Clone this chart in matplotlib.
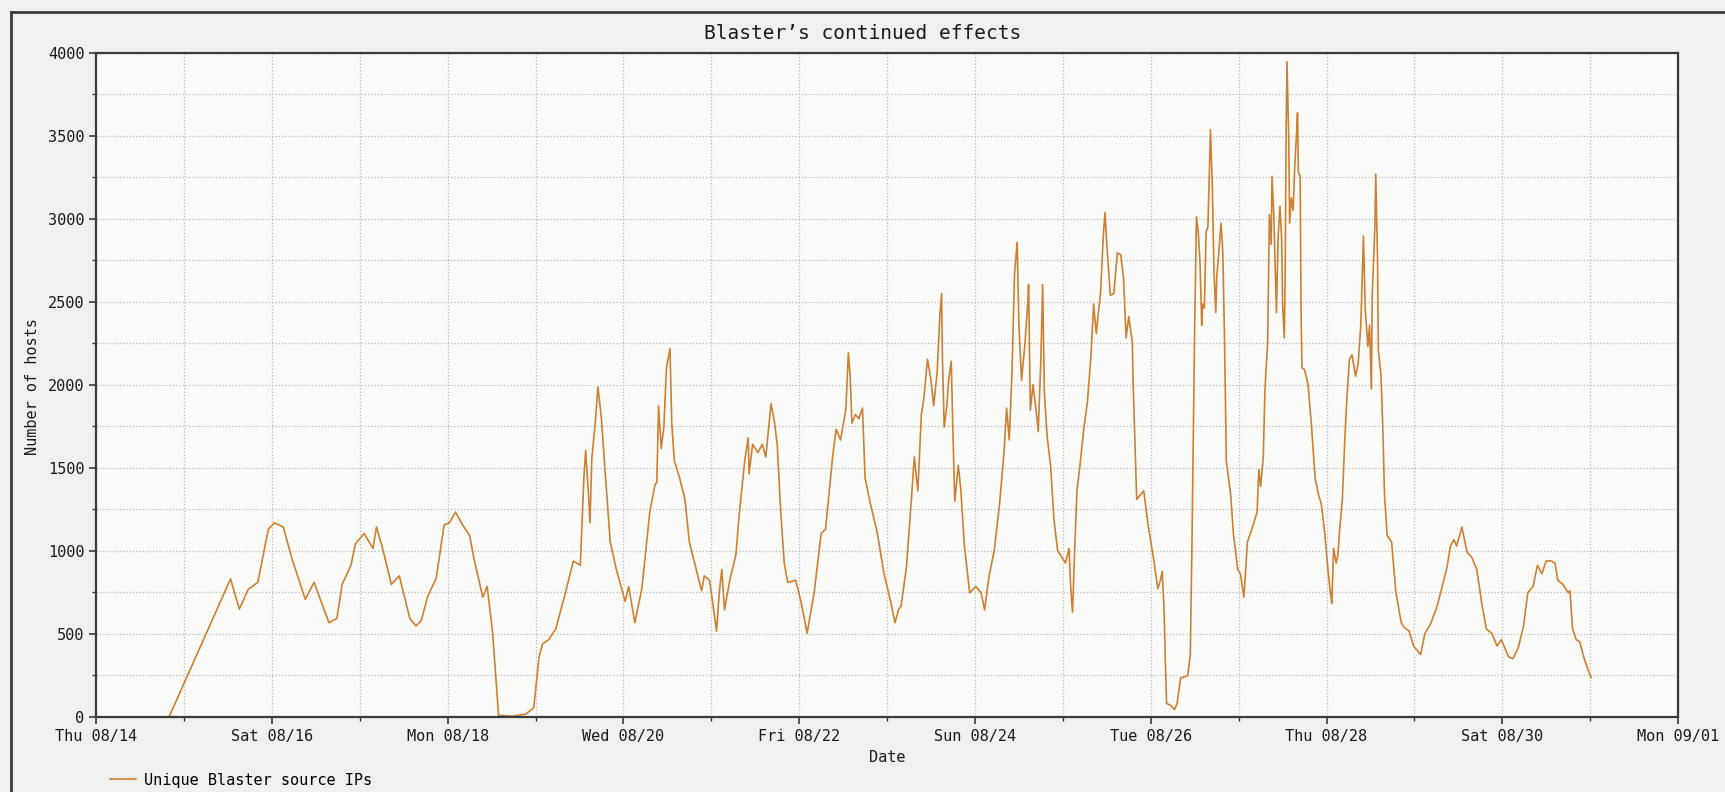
#!/usr/bin/env python3
# -*- coding: utf-8 -*-

"""
Blaster's continued effects: unique source IPs seen per hour, Aug/Sep 2003.
"""

import pandas as pd
import matplotlib
matplotlib.use("Agg")
import matplotlib.pyplot as plt
import matplotlib.dates as mdates
import matplotlib.ticker as ticker
from matplotlib.lines import Line2D

# Time in days since Thu 08/14 00:00
day_offsets = [
    0.83, 1.53, 1.63, 1.73, 1.84, 1.96, 2.03, 2.13, 2.23, 2.38, 2.48, 2.65, 2.74, 2.80, 2.90,
    2.95, 3.05, 3.15, 3.19, 3.26, 3.36, 3.45, 3.57, 3.64, 3.70, 3.77, 3.87, 3.96, 4.02, 4.09,
    4.17, 4.25, 4.30, 4.40, 4.45, 4.51, 4.58, 4.74, 4.89, 4.98, 5.04, 5.08, 5.15, 5.23, 5.34,
    5.43, 5.51, 5.55, 5.57, 5.60, 5.62, 5.64, 5.68, 5.71, 5.75, 5.79, 5.85, 5.92, 5.98, 6.02,
    6.06, 6.13, 6.21, 6.30, 6.36, 6.38, 6.40, 6.43, 6.46, 6.49, 6.53, 6.55, 6.58, 6.64, 6.70,
    6.75, 6.81, 6.89, 6.92, 6.98, 7.06, 7.09, 7.12, 7.15, 7.21, 7.28, 7.32, 7.38, 7.42, 7.43,
    7.47, 7.53, 7.58, 7.62, 7.68, 7.72, 7.75, 7.79, 7.83, 7.87, 7.96, 8.02, 8.09, 8.17, 8.25,
    8.30, 8.38, 8.42, 8.47, 8.53, 8.56, 8.58, 8.60, 8.64, 8.68, 8.72, 8.75, 8.81, 8.89, 8.96,
    9.04, 9.09, 9.13, 9.16, 9.22, 9.28, 9.31, 9.35, 9.39, 9.42, 9.46, 9.50, 9.53, 9.57, 9.60,
    9.62, 9.63, 9.65, 9.68, 9.70, 9.73, 9.75, 9.77, 9.81, 9.84, 9.88, 9.94, 10.01, 10.07, 10.11,
    10.16, 10.22, 10.28, 10.33, 10.36, 10.39, 10.42, 10.45, 10.48, 10.50, 10.53, 10.57, 10.60,
    10.61, 10.63, 10.66, 10.69, 10.72, 10.75, 10.77, 10.79, 10.82, 10.86, 10.90, 10.94, 11.03,
    11.07, 11.09, 11.11, 11.13, 11.16, 11.20, 11.24, 11.28, 11.32, 11.35, 11.38, 11.43, 11.46,
    11.48, 11.50, 11.54, 11.58, 11.62, 11.66, 11.69, 11.72, 11.75, 11.79, 11.80, 11.84, 11.88,
    11.92, 11.97, 12.04, 12.08, 12.11, 12.13, 12.15, 12.17, 12.18, 12.23, 12.27, 12.30, 12.34,
    12.42, 12.45, 12.47, 12.49, 12.50, 12.52, 12.54, 12.56, 12.58, 12.59, 12.61, 12.63, 12.65,
    12.67, 12.68, 12.70, 12.72, 12.74, 12.75, 12.77, 12.80, 12.82, 12.84, 12.86, 12.91, 12.94,
    12.99, 13.02, 13.06, 13.10, 13.15, 13.21, 13.23, 13.25, 13.28, 13.30, 13.33, 13.35, 13.37,
    13.38, 13.40, 13.42, 13.43, 13.45, 13.47, 13.49, 13.50, 13.52, 13.53, 13.54, 13.55, 13.57,
    13.58, 13.60, 13.62, 13.64, 13.66, 13.67, 13.68, 13.70, 13.71, 13.72, 13.75, 13.79, 13.83,
    13.87, 13.91, 13.94, 13.98, 14.02, 14.05, 14.06, 14.08, 14.11, 14.13, 14.15, 14.18, 14.21,
    14.23, 14.26, 14.29, 14.33, 14.36, 14.39, 14.41, 14.42, 14.44, 14.47, 14.49, 14.51, 14.52,
    14.55, 14.56, 14.58, 14.59, 14.62, 14.64, 14.66, 14.69, 14.74, 14.79, 14.85, 14.88, 14.94,
    14.99, 15.07, 15.12, 15.18, 15.26, 15.31, 15.37, 15.41, 15.45, 15.48, 15.54, 15.60, 15.65,
    15.71, 15.77, 15.82, 15.88, 15.94, 15.99, 16.07, 16.12, 16.18, 16.24, 16.29, 16.35, 16.40,
    16.45, 16.50, 16.56, 16.60, 16.63, 16.69, 16.75, 16.77, 16.80, 16.84, 16.88, 16.94, 17.01,
]

# Number of hosts (unique Blaster source IPs)
hosts = [
    0, 832, 650, 768, 811, 1131, 1170, 1144, 952, 709, 811, 568, 594, 799, 914,
    1042, 1106, 1016, 1144, 1016, 799, 850, 594, 548, 581, 722, 837, 1157, 1170, 1234,
    1157, 1093, 952, 722, 786, 517, 10, 5, 18, 56, 363, 440, 466, 530, 748,
    940, 914, 1439, 1605, 1362, 1170, 1554, 1771, 1989, 1797, 1490, 1055, 888, 773, 696,
    786, 568, 773, 1234, 1400, 1413, 1874, 1618, 1746, 2104, 2220, 1771, 1541, 1439, 1311,
    1055, 927, 760, 850, 824, 517, 748, 888, 645, 824, 978, 1234, 1541, 1682, 1464,
    1643, 1592, 1643, 1567, 1887, 1771, 1643, 1234, 927, 811, 824, 696, 504, 748, 1106,
    1131, 1567, 1733, 1669, 1848, 2194, 2053, 1771, 1822, 1797, 1861, 1439, 1285, 1106, 876,
    696, 568, 645, 671, 901, 1336, 1567, 1362, 1823, 1925, 2155, 2028, 1874, 2079, 2412,
    2552, 2155, 1746, 1874, 2028, 2143, 1695, 1298, 1516, 1362, 1029, 748, 786, 748, 645,
    850, 1004, 1285, 1592, 1861, 1669, 2053, 2667, 2860, 2360, 2028, 2258, 2488,
    2604, 1848, 2002, 1874, 1720, 2155, 2604, 1951, 1695, 1516, 1183, 1004, 927,
    1016, 773, 632, 940, 1362, 1541, 1746, 1900, 2181, 2488, 2309, 2565, 2898,
    3039, 2847, 2540, 2552, 2796, 2783, 2642, 2284, 2412, 2258, 2002, 1311, 1336,
    1362, 1157, 927, 773, 824, 876, 671, 261, 82, 69, 44, 82, 236,
    248, 376, 1080, 1951, 2360, 3013, 2924, 2744, 2360, 2488, 2463, 2924, 2949,
    3333, 3538, 3205, 2667, 2437, 2642, 2770, 2975, 2796, 2258, 1541, 1336, 1106,
    888, 863, 722, 1055, 1131, 1234, 1490, 1388, 1567, 1976, 2258, 3026, 2847,
    3256, 3026, 2642, 2437, 2898, 3077, 2872, 2488, 2284, 2693, 3512, 3948, 3487,
    2975, 3128, 3051, 3333, 3525, 3640, 3282, 3256, 2463, 2104, 2092, 2002, 1746,
    1439, 1336, 1285, 1106, 863, 722, 684, 1016, 927, 978, 1131, 1311, 1695,
    1900, 2155, 2181, 2053, 2130, 2360, 2719, 2898, 2463, 2232, 2360, 1976, 2540,
    2949, 3269, 2770, 2207, 2053, 1746, 1336, 1093, 1055, 748, 568, 543, 517,
    428, 376, 504, 555, 671, 773, 901, 1029, 1068, 1029, 1144, 991, 965,
    888, 671, 530, 504, 428, 466, 363, 351, 415, 543, 748, 786, 914,
    863, 940, 940, 927, 824, 799, 748, 760, 530, 466, 453, 338, 236,
]

start_date = "2003-08-14"
end_date = "2003-09-01"
series_label = "Unique Blaster source IPs"

# Colours
fig_bg = "#eef1ee"
plot_bg = "#fbfcfa"
line_color = "#cc8033"
grid_color = "#b9bcb9"
frame_color = "#3a3a3a"
mono = "DejaVu Sans Mono"

plt.rcParams["font.family"] = mono
plt.rcParams["font.size"] = 11

# Build the time index
times = pd.Timestamp(start_date) + pd.to_timedelta(day_offsets, unit="D")

fig = plt.figure(figsize=(17.25, 7.92), dpi=100, facecolor=fig_bg)
ax = fig.add_axes([0.0557, 0.0947, 0.9171, 0.8384], facecolor=plot_bg)

ax.plot(times, hosts, color=line_color, linewidth=1.2, label=series_label)

# Axes limits
ax.set_xlim(pd.Timestamp(start_date), pd.Timestamp(end_date))
ax.set_ylim(0, 4000)

# X ticks: labels every second day, grid every day
ax.set_xticks(pd.date_range(start_date, end_date, freq="2D"))
ax.xaxis.set_minor_locator(mdates.DayLocator())
ax.xaxis.set_major_formatter(mdates.DateFormatter("%a %m/%d"))

# Y ticks: labels every 500, grid every 250
ax.yaxis.set_major_locator(ticker.MultipleLocator(500))
ax.yaxis.set_minor_locator(ticker.MultipleLocator(250))

ax.tick_params(which="major", direction="out", length=5, width=1.2, color=frame_color,
               labelsize=11, labelcolor="#1a1a1a")
ax.tick_params(which="minor", direction="out", length=3, width=1.0, color=frame_color)

ax.grid(which="both", color=grid_color, linestyle=":", linewidth=0.9)
ax.set_axisbelow(True)

for spine in ax.spines.values():
    spine.set_color(frame_color)
    spine.set_linewidth(1.6)

# Labels
fig.text(0.5, 0.958, "Blaster\u2019s continued effects", ha="center", va="center",
         fontsize=14, color="#1a1a1a")
fig.text(0.5145, 0.044, "Date", ha="center", va="center", fontsize=11, color="#1a1a1a")
fig.text(0.019, 0.512, "Number of hosts", ha="center", va="center", rotation=90,
         fontsize=11, color="#1a1a1a")

# Legend below the axes
fig.legend(loc="lower left", bbox_to_anchor=(0.056, -0.012), frameon=False,
           handlelength=1.7, handletextpad=0.5, fontsize=11)

# Outer frame (top and left edges are visible in the original)
fig.add_artist(Line2D([0.0064, 1.0], [0.985, 0.985], transform=fig.transFigure,
                      color=frame_color, linewidth=2))
fig.add_artist(Line2D([0.0064, 0.0064], [0.0, 0.985], transform=fig.transFigure,
                      color=frame_color, linewidth=2))

fig.savefig("out.png", dpi=100, facecolor=fig_bg)
